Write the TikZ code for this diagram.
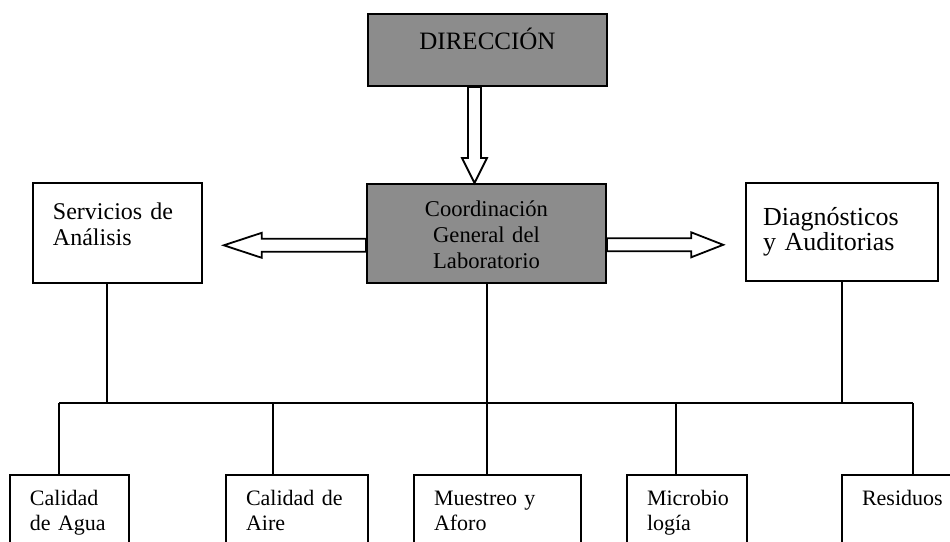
\documentclass[tikz,border=0pt]{standalone}
\usepackage{fontspec}
\setmainfont{Liberation Serif}
\usetikzlibrary{calc}
\definecolor{boxgray}{gray}{0.55}
\begin{document}
\begin{tikzpicture}[x=0.5pt, y=-0.5pt,
		graybox/.style={draw, line width=1pt, fill=boxgray, anchor=north, inner sep=0pt, align=center},
		plainbox/.style={draw, line width=0.8pt, anchor=north, inner ysep=0pt, align=left},
		leafbox/.style={plainbox, inner xsep=10pt, text height=15.5pt, text depth=70pt, font=\fontsize{11}{12.5}\selectfont},
		hollow/.style={draw, line width=0.9pt, fill=white, line join=miter},
		link/.style={line width=0.7pt}]
	\useasboundingbox (0,0) rectangle (950,542);
	\clip (0,0) rectangle (950,542);
	\node[graybox, text width=119.5pt, text height=17.5pt, text depth=18.5pt, font=\fontsize{12.5}{13}\selectfont] (dir) at (487.5,13) {DIRECCIÓN};
	\node[graybox, text width=119.5pt, text height=16pt, text depth=33.5pt, font=\fontsize{11.3}{13}\selectfont] (coord) at (486.5,183) {Coordinación\\ General~del\\ Laboratorio};
	\node[plainbox, inner xsep=10pt, text width=64.5pt, text height=18.5pt, text depth=31.5pt, font=\fontsize{12}{13}\selectfont] (serv) at (117.5,182) {Servicios~de\\ Análisis};
	\node[plainbox, inner xsep=8.5pt, text width=79pt, text height=21.5pt, text depth=27.5pt, font=\fontsize{13}{12.5}\selectfont] (diag) at (842,182) {Diagnósticos\\ y~Auditorias};
	\node[leafbox, text width=39.5pt] (agua) at (69.5,474) {Calidad\\ de~Agua};
	\node[leafbox, text width=51pt] (aire) at (297,474) {Calidad~de\\ Aire};
	\node[leafbox, text width=63.5pt] (muestreo) at (497.5,474) {Muestreo~y\\ Aforo};
	\node[leafbox, text width=40pt] (micro) at (687,474) {Microbio\\ logía};
	\node[leafbox, text width=40pt] (resid) at (902,474) {Residuos};
	\coordinate (tipd) at ($(coord.north)+(-12,0)$);
	\coordinate (tipl) at ($(serv.east)+(21,12.5)$);
	\coordinate (tipr) at ($(diag.west)+(-22,13)$);
	\draw[hollow] (tipd) -- ++(-12.5,-25) -- ++(6,0) -- ($(tipd |- dir.south)+(-6.5,0)$) -- ++(13,0) -- ($(tipd)+(6.5,-25)$) -- ++(6,0) -- cycle;
	\draw[hollow] (tipl) -- ++(38,-12.5) -- ++(0,6) -- ($(tipl -| coord.west)+(0,-6.5)$) -- ++(0,13) -- ($(tipl)+(38,6.5)$) -- ++(0,6) -- cycle;
	\draw[hollow] (tipr) -- ++(-32,-12.5) -- ++(0,6) -- ($(tipr -| coord.east)+(0,-6.5)$) -- ++(0,13) -- ($(tipr)+(-32,6.5)$) -- ++(0,6) -- cycle;
	\coordinate (b1) at (59,403);
	\coordinate (b2) at (107,403);
	\coordinate (b3) at (273,403);
	\coordinate (b4) at (487,403);
	\coordinate (b5) at (676,403);
	\coordinate (b7) at (913,403);
	\draw[link] (b1) -- (b7);
	\draw[link] (b2 |- serv.south) -- (b2);
	\draw[link] (b4 |- coord.south) -- (b4);
	\draw[link] (diag.south) -- (diag.south |- b1);
	\foreach \b/\n in {b1/agua, b3/aire, b4/muestreo, b5/micro, b7/resid} \draw[link] (\b) -- (\b |- \n.north);
\end{tikzpicture}
\end{document}
